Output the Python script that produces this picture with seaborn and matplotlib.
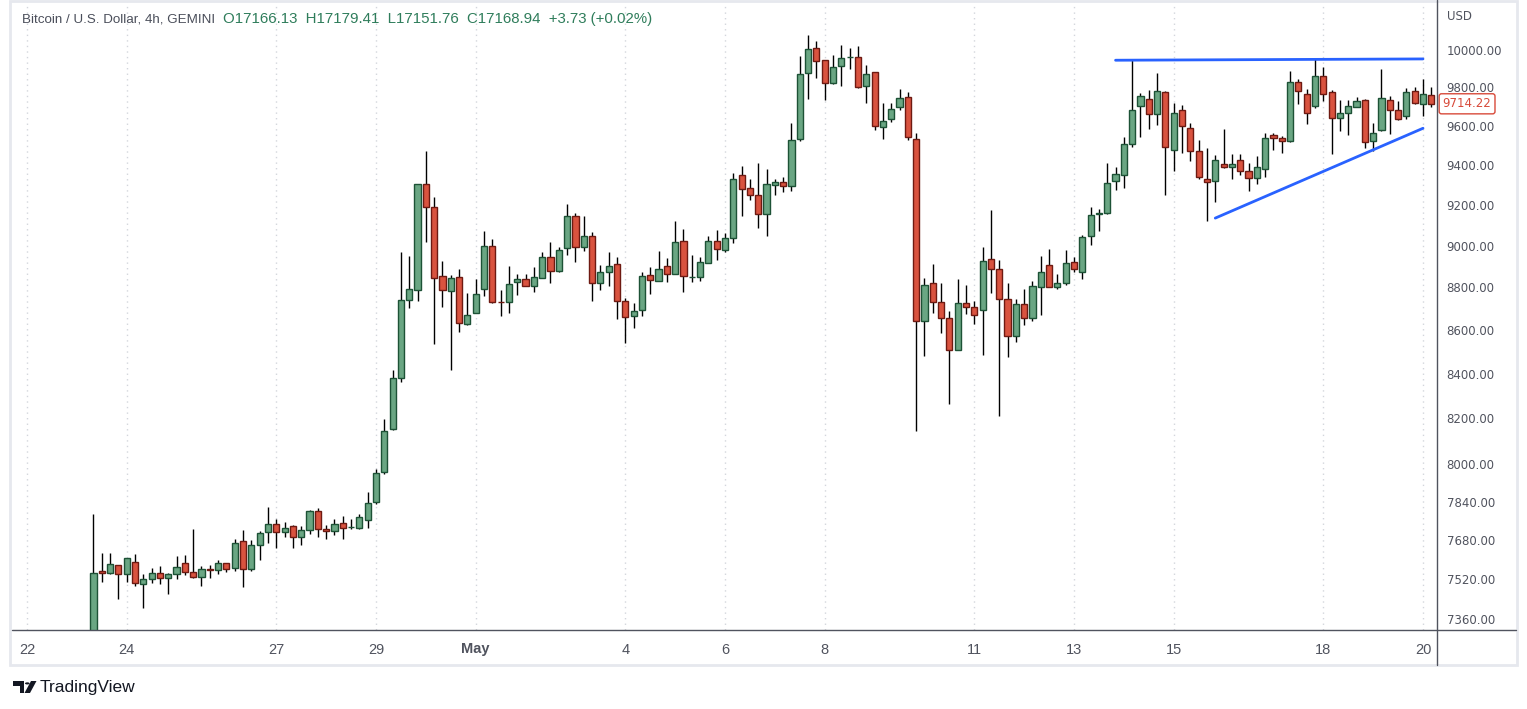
import matplotlib
matplotlib.use("Agg")
import matplotlib.pyplot as plt
import matplotlib.dates as mdates
from matplotlib.patches import Polygon, Circle, Rectangle
from matplotlib.lines import Line2D
from matplotlib.ticker import NullLocator, NullFormatter
import pandas as pd
import seaborn as sns

# BTC/USD 4h candles, Apr 23 08:00 -> May 20 04:00
opens = [7290, 7551, 7543, 7575, 7539, 7591, 7499, 7519, 7543, 7523,
         7539, 7583, 7547, 7527, 7559, 7555, 7583, 7563, 7677, 7559,
         7660, 7712, 7747, 7714, 7739, 7693, 7722, 7801, 7726, 7718,
         7751, 7732, 7731, 7764, 7839, 7965, 8152, 8382, 8740, 8788,
         9302, 9191, 8853, 8784, 8849, 8629, 8681, 8793, 8997, 8732,
         8730, 8825, 8839, 8807, 8844, 8945, 8878, 8988, 9143, 8993,
         9045, 8818, 8873, 8912, 8734, 8666, 8693, 8858, 8830, 8902,
         8863, 9021, 8848, 8849, 8916, 9021, 8978, 9036, 9350, 9285,
         9250, 9152, 9297, 9312, 9292, 9530, 9878, 10009, 9944, 9822,
         9912, 9960, 9961, 9806, 9881, 9596, 9633, 9697, 9750, 9530,
         8643, 8820, 8730, 8655, 8509, 8725, 8707, 8694, 8936, 8888,
         8744, 8571, 8720, 8655, 8802, 8907, 8802, 8820, 8921, 8873,
         9045, 9153, 9157, 9316, 9350, 9506, 9702, 9739, 9661, 9776,
         9474, 9682, 9588, 9469, 9331, 9316, 9404, 9389, 9423, 9369,
         9335, 9380, 9551, 9536, 9520, 9828, 9765, 9702, 9860, 9776,
         9640, 9666, 9697, 9733, 9520, 9577, 9733, 9680, 9650, 9781,
         9712, 9760]
highs = [7786, 7625, 7625, 7577, 7606, 7621, 7539, 7563, 7571, 7543,
         7612, 7616, 7724, 7571, 7575, 7596, 7585, 7682, 7720, 7678,
         7716, 7819, 7769, 7755, 7741, 7739, 7803, 7811, 7743, 7769,
         7780, 7765, 7786, 7882, 7979, 8199, 8418, 8969, 8950, 9304,
         9471, 9237, 8926, 8858, 8887, 8771, 8839, 9071, 9031, 8787,
         8902, 8863, 8863, 8897, 8969, 9016, 8993, 9203, 9157, 9143,
         9066, 8907, 8969, 8945, 8748, 8725, 8873, 8897, 8974, 8940,
         9120, 9081, 8955, 8945, 9045, 9076, 9062, 9360, 9393, 9326,
         9408, 9379, 9326, 9341, 9613, 9966, 10079, 10047, 9946, 9972,
         10025, 10009, 10020, 9918, 9883, 9717, 9717, 9792, 9776, 9561,
         8844, 8912, 8820, 8688, 8839, 8812, 8734, 8993, 9173, 8931,
         8820, 8744, 8792, 8830, 8950, 8983, 8863, 8979, 8945, 9050,
         9188, 9178, 9408, 9389, 9541, 9944, 9771, 9787, 9875, 9781,
         9717, 9707, 9613, 9525, 9485, 9448, 9582, 9453, 9453, 9408,
         9443, 9561, 9561, 9546, 9886, 9843, 9792, 9950, 9907, 9787,
         9733, 9733, 9750, 9739, 9613, 9897, 9755, 9728, 9796, 9802,
         9843, 9802]
lows = [7250, 7509, 7540, 7441, 7509, 7493, 7405, 7503, 7501, 7461,
        7521, 7535, 7523, 7493, 7523, 7541, 7547, 7551, 7489, 7551,
        7598, 7668, 7648, 7693, 7645, 7659, 7703, 7693, 7683, 7699,
        7683, 7726, 7727, 7731, 7830, 7957, 8150, 8360, 8701, 8734,
        9019, 8535, 8705, 8416, 8588, 8624, 8679, 8760, 8725, 8664,
        8678, 8762, 8805, 8779, 8842, 8820, 8871, 8955, 8921, 8974,
        8737, 8787, 8807, 8649, 8540, 8608, 8666, 8770, 8828, 8826,
        8861, 8777, 8826, 8830, 8914, 8931, 8969, 9011, 9143, 9222,
        9085, 9045, 9246, 9264, 9269, 9520, 9739, 9849, 9733, 9820,
        9806, 9897, 9796, 9717, 9576, 9530, 9618, 9680, 9525, 8144,
        8479, 8680, 8587, 8264, 8507, 8676, 8629, 8485, 8774, 8210,
        8476, 8545, 8624, 8643, 8671, 8800, 8792, 8812, 8873, 8839,
        9002, 9071, 9155, 9272, 9282, 9490, 9541, 9582, 9603, 9246,
        9367, 9459, 9418, 9326, 9120, 9212, 9384, 9326, 9350, 9268,
        9302, 9340, 9474, 9459, 9518, 9712, 9608, 9691, 9728, 9453,
        9572, 9551, 9695, 9485, 9469, 9575, 9556, 9632, 9634, 9715,
        9650, 9700]
closes = [7543, 7543, 7579, 7539, 7604, 7503, 7519, 7543, 7523, 7539,
          7567, 7547, 7527, 7559, 7555, 7583, 7559, 7668, 7559, 7660,
          7707, 7747, 7714, 7728, 7693, 7722, 7801, 7726, 7718, 7747,
          7731, 7733, 7776, 7835, 7961, 8143, 8382, 8740, 8792, 9302,
          9187, 8844, 8788, 8844, 8633, 8671, 8770, 8997, 8730, 8729,
          8817, 8839, 8807, 8849, 8945, 8878, 8979, 9143, 8993, 9045,
          8818, 8873, 8902, 8734, 8659, 8689, 8853, 8834, 8887, 8863,
          9016, 8853, 8850, 8921, 9021, 8983, 9036, 9326, 9280, 9250,
          9152, 9302, 9312, 9292, 9525, 9874, 10004, 9939, 9822, 9907,
          9955, 9962, 9801, 9870, 9601, 9627, 9686, 9744, 9541, 8643,
          8810, 8730, 8655, 8509, 8725, 8707, 8671, 8926, 8888, 8744,
          8571, 8720, 8655, 8807, 8873, 8802, 8820, 8916, 8888, 9040,
          9148, 9157, 9306, 9355, 9506, 9680, 9755, 9661, 9783, 9490,
          9667, 9598, 9469, 9339, 9312, 9427, 9389, 9404, 9369, 9335,
          9389, 9536, 9536, 9520, 9828, 9781, 9666, 9860, 9765, 9640,
          9666, 9702, 9728, 9515, 9561, 9744, 9680, 9634, 9776, 9717,
          9765, 9714.22]

price_ticks = [7360, 7520, 7680, 7840, 8000, 8200, 8400, 8600, 8800,
               9000, 9200, 9400, 9600, 9800, 10000]
tick_dates = ["2020-04-22", "2020-04-24", "2020-04-27", "2020-04-29",
              "2020-05-01", "2020-05-04", "2020-05-06", "2020-05-08",
              "2020-05-11", "2020-05-13", "2020-05-15", "2020-05-18",
              "2020-05-20"]
tick_labels = ["22", "24", "27", "29", "May", "4", "6", "8", "11", "13",
               "15", "18", "20"]

# hand-drawn trend lines (start/end time, price)
res_times = ["2020-05-13 20:00", "2020-05-20 00:00"]
res_prices = [9945, 9952]
sup_times = ["2020-05-15 20:00", "2020-05-20 00:00"]
sup_prices = [9134, 9587]

W, H = 1527, 709
UP, UP_EDGE = "#6aa683", "#1d5236"
DN, DN_EDGE = "#d9533f", "#6e1a12"
TXT = "#50535e"

df = pd.DataFrame({"open": opens, "high": highs, "low": lows, "close": closes})
df["time"] = pd.date_range("2020-04-23 08:00", periods=len(df), freq="4h")
df["x"] = mdates.date2num(df["time"])
df["up"] = df["close"] >= df["open"]
df["bottom"] = df[["open", "close"]].min(axis=1)
df["body"] = (df["close"] - df["open"]).abs()

sns.set_theme(style="white")
plt.rcParams["font.family"] = ["Liberation Sans", "DejaVu Sans"]

fig = plt.figure(figsize=(W / 100, H / 100), dpi=100)
fig.patch.set_facecolor("white")
ax = fig.add_axes([12 / W, 1 - 630 / H, 1425 / W, 628 / H])
ax.set_facecolor("white")
ax.set_yscale("log")

# date grid
for d in tick_dates:
    ax.axvline(mdates.date2num(pd.Timestamp(d)), color="#d3d6dc", lw=1,
               ls=(0, (1, 3)), zorder=0)

# wicks + bodies
ax.vlines(df["x"], df["low"], df["high"], color="black", lw=1.0, zorder=2)
bw = 4 / 24 * 0.74
for flag, fc, ec in [(True, UP, UP_EDGE), (False, DN, DN_EDGE)]:
    sub = df[df["up"] == flag]
    ax.bar(sub["x"], sub["body"], bottom=sub["bottom"], width=bw,
           color=fc, edgecolor=ec, linewidth=1.0, zorder=3)

# trend lines
for tt, pp in [(res_times, res_prices), (sup_times, sup_prices)]:
    line_df = pd.DataFrame({"x": mdates.date2num(pd.to_datetime(tt)), "p": pp})
    sns.lineplot(data=line_df, x="x", y="p", ax=ax, color="#2962ff", lw=2, zorder=4)

ax.set_xlim(mdates.date2num(pd.Timestamp("2020-04-21 16:47")),
            mdates.date2num(pd.Timestamp("2020-05-20 06:44")))
ax.set_ylim(7316, 10262)
ax.set_xlabel("")
ax.set_ylabel("")

ax.set_xticks([mdates.date2num(pd.Timestamp(d)) for d in tick_dates])
ax.set_xticklabels(tick_labels)
ax.tick_params(axis="x", length=0, pad=9, labelsize=10.5, labelcolor=TXT)
ax.get_xticklabels()[4].set_fontweight("bold")

ax.yaxis.tick_right()
ax.set_yticks(price_ticks)
ax.set_yticklabels([f"{t:.2f}" for t in price_ticks])
ax.yaxis.set_minor_locator(NullLocator())
ax.yaxis.set_minor_formatter(NullFormatter())
ax.tick_params(axis="y", length=0, pad=7, labelsize=8.5, labelcolor=TXT)
for lbl in ax.get_yticklabels():
    lbl.set_fontfamily("DejaVu Sans")

for s in ax.spines.values():
    s.set_visible(False)

# last price tag
ax.text(1.004, 9714.22, "9714.22", transform=ax.get_yaxis_transform(),
        va="center", ha="left", fontsize=8.5, family="DejaVu Sans",
        color="#d84a3a", zorder=6, clip_on=False,
        bbox=dict(boxstyle="round,pad=0.3,rounding_size=0.2", fc="white",
                  ec="#d84a3a", lw=1))

# frame and axis lines (figure coords)
fig.add_artist(Rectangle((10 / W, 1 - 665 / H), 1507 / W, 664 / H,
                         transform=fig.transFigure, fill=False,
                         ec="#e6e8ee", lw=2))
fig.add_artist(Line2D([1437 / W, 1437 / W], [1, 1 - 665 / H],
                      transform=fig.transFigure, color="#50535e", lw=1))
fig.add_artist(Line2D([12 / W, 1516 / W], [1 - 630 / H, 1 - 630 / H],
                      transform=fig.transFigure, color="#50535e", lw=1))

# header: symbol then OHLC right after it
title = fig.text(22 / W, 1 - 19 / H, "Bitcoin / U.S. Dollar, 4h, GEMINI",
                 va="center", ha="left", fontsize=9.6, color="#4a4e5a")
fig.canvas.draw()
t_end = title.get_window_extent().x1
fig.text((t_end + 8) / W, 1 - 19 / H,
         "O17166.13  H17179.41  L17151.76  C17168.94  +3.73 (+0.02%)",
         va="center", ha="left", fontsize=10.8, color="#2f7d5b")
fig.text(1447 / W, 1 - 16 / H, "USD", va="center", ha="left",
         fontsize=8.5, family="DejaVu Sans", color=TXT)

# TradingView logo
def px(x, y):
    return (x / W, 1 - y / H)

fig.add_artist(Polygon([px(13, 681), px(24, 681), px(24, 693), px(19.5, 693),
                        px(19.5, 686), px(13, 686)], closed=True,
                       transform=fig.transFigure, fc="#131722", ec="none"))
fig.add_artist(Circle(px(27.3, 683.4), 2.3 / W, transform=fig.transFigure,
                      fc="#131722", ec="none"))
fig.add_artist(Polygon([px(24.5, 693), px(30, 693), px(36.5, 681), px(31, 681)],
                       closed=True, transform=fig.transFigure,
                       fc="#131722", ec="none"))
fig.text(40 / W, 1 - 687.5 / H, "TradingView", va="center", ha="left",
         fontsize=12.5, color="#131722")

fig.savefig("out.png", dpi=100)
